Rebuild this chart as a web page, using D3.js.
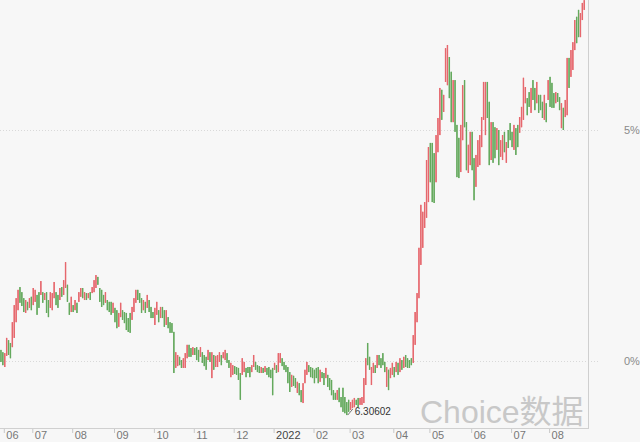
<!DOCTYPE html>
<html><head><meta charset="utf-8">
<script src="https://cdn.jsdelivr.net/npm/d3@7"></script>
<style>html,body{margin:0;padding:0;background:#f7f7f7;}svg{display:block;}</style>
</head><body>
<script>
// percent change values (0% = base), one candle per trading day, Jun 2021 - Aug 2022
const high = [0.24,0.19,0.17,0.50,0.45,0.39,0.84,1.21,1.36,1.54,1.60,1.49,1.36,1.32,1.28,1.36,1.39,1.58,1.54,1.43,1.49,1.73,1.49,1.47,1.49,1.32,1.49,1.47,1.71,1.49,1.43,1.58,1.60,1.75,2.14,1.65,1.26,1.39,1.21,1.32,1.26,1.49,1.58,1.58,1.49,1.47,1.47,1.49,1.60,1.75,1.86,1.82,1.58,1.54,1.43,1.49,1.32,1.28,
1.28,1.26,1.15,1.10,1.04,1.26,1.10,1.06,1.04,0.93,1.04,1.17,1.36,1.54,1.54,1.47,1.36,1.32,1.28,1.43,1.32,1.17,1.06,1.15,1.28,1.10,1.17,1.17,1.10,1.10,0.95,0.84,0.82,0.63,0.19,0.13,0.09,0.02,0.06,0.17,0.35,0.35,0.28,0.30,0.28,0.30,0.24,0.30,0.19,0.13,0.09,0.24,0.19,0.19,0.13,0.11,
0.13,0.19,0.13,0.19,0.24,0.17,0.02,-0.04,-0.09,-0.11,-0.13,-0.15,-0.26,0.06,-0.02,-0.15,-0.13,-0.13,-0.09,0.13,-0.02,-0.09,-0.11,-0.13,-0.15,-0.11,-0.15,-0.13,-0.19,-0.15,-0.04,-0.09,0.17,0.17,0.06,-0.02,-0.09,-0.13,-0.24,-0.30,-0.32,-0.37,-0.45,-0.48,-0.63,-0.48,-0.19,-0.02,-0.09,-0.13,-0.15,-0.19,
-0.15,-0.13,-0.19,-0.24,-0.26,-0.15,-0.30,-0.37,-0.41,-0.63,-0.69,-0.63,-0.58,-0.78,-0.58,-0.78,-0.89,-0.84,-0.89,-0.84,-0.80,-0.84,-0.80,-0.80,-0.78,-0.37,0.06,0.39,0.09,-0.13,-0.04,-0.09,0.13,0.13,0.06,0.17,-0.02,-0.13,-0.19,-0.15,-0.04,-0.13,-0.02,-0.04,0.06,0.02,0.09,0.13,0.06,0.02,0.06,0.56,
1.06,1.47,2.45,3.38,3.23,3.44,4.35,4.63,4.72,4.72,4.50,4.89,5.26,5.91,5.87,5.76,6.77,6.84,6.58,6.26,6.08,6.08,5.11,4.83,5.11,5.97,6.08,5.17,4.68,4.96,4.96,4.39,4.46,4.78,4.89,5.28,6.04,6.04,6.04,5.61,5.17,5.17,5.06,5.04,5.00,
4.78,4.89,4.96,4.74,5.00,5.15,4.96,5.11,5.04,5.11,5.28,5.50,6.13,5.93,5.69,5.82,5.91,6.08,5.91,6.04,5.76,5.76,5.61,5.76,5.58,6.08,6.15,6.02,5.80,5.82,5.80,5.71,5.58,5.48,5.65,6.56,6.56,6.73,6.90,7.38,7.45,7.60,7.53,7.75,7.81];
const low = [-0.02,-0.09,-0.13,0.11,0.13,0.06,0.30,0.50,0.84,1.10,1.26,1.19,1.06,1.04,1.10,1.15,1.10,1.21,1.28,1.00,1.15,1.43,1.26,1.32,1.04,0.95,1.15,1.10,1.36,1.21,1.15,1.32,1.39,1.43,1.58,1.28,1.00,1.06,1.06,1.10,1.04,1.28,1.39,1.36,1.32,1.32,1.36,1.32,1.47,1.49,1.58,1.65,1.28,1.17,1.21,1.26,1.10,1.06,
1.00,1.04,0.84,0.71,0.74,0.95,0.89,0.82,0.67,0.63,0.61,0.89,1.06,1.26,1.32,1.26,1.04,1.10,1.04,1.15,1.06,0.93,0.93,0.78,1.00,0.84,0.93,0.93,0.74,0.78,0.71,0.61,0.61,-0.26,-0.15,-0.11,-0.09,-0.15,-0.15,-0.15,0.06,0.09,0.09,0.13,0.13,0.02,-0.02,0.09,-0.04,-0.11,-0.19,0.02,-0.02,-0.37,-0.19,-0.13,
-0.13,-0.02,-0.09,0.06,0.02,-0.04,-0.15,-0.35,-0.30,-0.28,-0.30,-0.41,-0.84,-0.30,-0.24,-0.35,-0.26,-0.35,-0.24,-0.13,-0.19,-0.24,-0.26,-0.26,-0.26,-0.24,-0.30,-0.35,-0.37,-0.74,-0.19,-0.26,-0.24,-0.04,-0.11,-0.19,-0.24,-0.48,-0.67,-0.56,-0.54,-0.58,-0.69,-0.74,-0.89,-0.91,-0.48,-0.30,-0.24,-0.35,-0.37,-0.48,
-0.37,-0.48,-0.45,-0.37,-0.52,-0.37,-0.56,-0.63,-0.74,-0.84,-0.84,-0.84,-0.89,-1.00,-1.10,-1.13,-1.17,-1.10,-1.06,-1.02,-1.00,-0.95,-1.00,-0.95,-0.95,-0.91,-0.52,-0.09,-0.19,-0.52,-0.26,-0.26,-0.15,-0.09,-0.15,-0.09,-0.24,-0.56,-0.63,-0.37,-0.30,-0.35,-0.24,-0.30,-0.24,-0.19,-0.15,-0.13,-0.15,-0.15,-0.09,-0.04,
0.35,0.84,1.36,2.08,2.45,2.88,3.10,3.44,3.87,3.44,3.42,3.87,4.52,4.89,5.22,5.39,6.04,5.97,5.69,5.17,5.17,4.96,3.98,3.96,4.09,4.78,5.06,4.13,4.07,4.24,4.13,3.48,3.77,4.20,4.24,4.63,5.22,4.89,5.26,4.24,4.35,4.29,4.39,4.57,4.24,
4.42,4.35,4.52,4.29,4.61,4.78,4.63,4.57,4.46,4.63,4.94,5.06,5.22,5.58,5.32,5.50,5.37,5.65,5.43,5.58,5.37,5.43,5.26,5.22,5.17,5.65,5.50,5.48,5.48,5.58,5.61,5.43,5.04,5.00,5.28,5.32,5.91,6.15,6.30,6.73,6.88,7.01,7.01,7.38,7.60];
const open = [0.24,0.19,-0.13,0.11,0.45,0.39,0.30,0.50,0.84,1.10,1.60,1.49,1.36,1.04,1.28,1.15,1.39,1.21,1.28,1.43,1.49,1.43,1.49,1.32,1.49,1.32,1.15,1.10,1.36,1.49,1.43,1.32,1.60,1.43,1.58,1.65,1.26,1.06,1.21,1.10,1.26,1.28,1.39,1.58,1.32,1.47,1.36,1.49,1.47,1.49,1.58,1.82,1.58,1.54,1.43,1.26,1.32,1.28,
1.28,1.04,1.15,1.10,0.74,0.95,1.10,1.06,1.04,0.93,1.04,0.89,1.06,1.26,1.54,1.47,1.36,1.10,1.28,1.15,1.32,1.17,1.06,0.78,1.00,1.10,0.93,1.17,1.10,0.78,0.95,0.84,0.82,0.63,-0.15,-0.11,0.09,0.02,-0.15,-0.15,0.06,0.35,0.28,0.13,0.28,0.30,0.24,0.09,0.19,0.13,0.09,0.02,0.19,-0.37,0.13,-0.13,
-0.13,-0.02,0.13,0.06,0.02,0.17,0.02,-0.35,-0.30,-0.11,-0.13,-0.15,-0.26,-0.30,-0.24,-0.15,-0.13,-0.13,-0.24,-0.13,-0.02,-0.09,-0.11,-0.26,-0.15,-0.24,-0.15,-0.13,-0.19,-0.15,-0.19,-0.09,-0.24,-0.04,0.06,-0.02,-0.09,-0.13,-0.24,-0.56,-0.32,-0.37,-0.69,-0.48,-0.63,-0.91,-0.48,-0.30,-0.09,-0.13,-0.15,-0.19,
-0.15,-0.13,-0.45,-0.24,-0.26,-0.37,-0.30,-0.37,-0.41,-0.63,-0.69,-0.84,-0.58,-0.78,-0.58,-0.78,-0.89,-0.84,-1.06,-1.02,-1.00,-0.84,-0.80,-0.95,-0.95,-0.91,-0.52,0.39,0.09,-0.52,-0.26,-0.09,-0.15,0.13,0.06,0.17,-0.02,-0.56,-0.19,-0.37,-0.30,-0.13,-0.24,-0.04,-0.24,0.02,-0.15,0.13,0.06,0.02,0.06,-0.04,
0.35,0.84,1.36,2.08,2.45,2.88,3.10,3.44,4.72,4.72,4.50,3.87,4.52,4.89,5.87,5.39,6.04,5.97,6.58,6.26,5.17,6.08,5.11,4.83,4.09,4.78,6.08,5.17,4.07,4.24,4.96,4.39,3.77,4.20,4.24,4.63,5.22,4.89,6.04,5.61,4.35,5.17,5.06,4.57,5.00,
4.42,4.35,4.96,4.29,5.00,5.15,4.96,4.57,5.04,5.11,4.94,5.06,5.22,5.58,5.69,5.82,5.37,6.08,5.91,5.58,5.76,5.76,5.61,5.22,5.58,5.65,6.15,6.02,5.80,5.58,5.80,5.71,5.04,5.48,5.28,5.32,6.56,6.15,6.30,6.73,7.45,7.60,7.01,7.38,7.60];
const close = [-0.02,-0.09,0.17,0.50,0.13,0.06,0.84,1.21,1.36,1.54,1.26,1.19,1.06,1.32,1.10,1.36,1.10,1.58,1.54,1.00,1.15,1.73,1.26,1.47,1.04,0.95,1.49,1.47,1.71,1.21,1.15,1.58,1.39,1.75,2.14,1.28,1.00,1.39,1.06,1.32,1.04,1.49,1.58,1.36,1.49,1.32,1.47,1.32,1.60,1.75,1.86,1.65,1.28,1.17,1.21,1.49,1.10,1.06,
1.00,1.26,0.84,0.71,1.04,1.26,0.89,0.82,0.67,0.63,0.61,1.17,1.36,1.54,1.32,1.26,1.04,1.32,1.04,1.43,1.06,0.93,0.93,1.15,1.28,0.84,1.17,0.93,0.74,1.10,0.71,0.61,0.61,-0.26,0.19,0.13,-0.09,-0.15,0.06,0.17,0.35,0.09,0.09,0.30,0.13,0.02,-0.02,0.30,-0.04,-0.11,-0.19,0.24,-0.02,0.19,-0.19,0.11,
0.13,0.19,-0.09,0.19,0.24,-0.04,-0.15,-0.04,-0.09,-0.28,-0.30,-0.41,-0.84,0.06,-0.02,-0.35,-0.26,-0.35,-0.09,0.13,-0.19,-0.24,-0.26,-0.13,-0.26,-0.11,-0.30,-0.35,-0.37,-0.74,-0.04,-0.26,0.17,0.17,-0.11,-0.19,-0.24,-0.48,-0.67,-0.30,-0.54,-0.58,-0.45,-0.74,-0.89,-0.48,-0.19,-0.02,-0.24,-0.35,-0.37,-0.48,
-0.37,-0.48,-0.19,-0.37,-0.52,-0.15,-0.56,-0.63,-0.74,-0.84,-0.84,-0.63,-0.89,-1.00,-1.10,-1.13,-1.17,-1.10,-0.89,-0.84,-0.80,-0.95,-1.00,-0.80,-0.78,-0.37,0.06,-0.09,-0.19,-0.13,-0.04,-0.26,0.13,-0.09,-0.15,-0.09,-0.24,-0.13,-0.63,-0.15,-0.04,-0.35,-0.02,-0.30,0.06,-0.19,0.09,-0.13,-0.15,-0.15,-0.09,0.56,
1.06,1.47,2.45,3.38,3.23,3.44,4.35,4.63,3.87,3.44,3.42,4.89,5.26,5.91,5.22,5.76,6.77,6.84,5.69,5.17,6.08,4.96,3.98,3.96,5.11,5.97,5.06,4.13,4.68,4.96,4.13,3.48,4.46,4.78,4.89,5.28,6.04,6.04,5.26,4.24,5.17,4.29,4.39,5.04,4.24,
4.78,4.89,4.52,4.74,4.61,4.78,4.63,5.11,4.46,4.63,5.28,5.50,6.13,5.93,5.32,5.50,5.91,5.65,5.43,6.04,5.37,5.43,5.26,5.76,5.17,6.08,5.50,5.48,5.48,5.82,5.61,5.43,5.58,5.00,5.65,6.56,5.91,6.73,6.90,7.38,6.88,7.01,7.53,7.75,7.81];
const dayIndex = d3.range(high.length);
const monthTickIndex = [2,17,38,60,81,102,123,144,165,184,207,226,248,269,289];
const monthTickLabels = ['06','07','08','09','10','11','12','2022','02','03','04','05','06','07','08'];
const yTickValues = [0,5];
const yTickLabels = ['0%','5%'];
const minLabel = '6.30602';
const watermark = 'Choice数据';

const W = 640, H = 442;
const plotRight = 588, axisY = 428;
const svg = d3.select('body').append('svg').attr('width',W).attr('height',H);
svg.append('rect').attr('width',W).attr('height',H).attr('fill','#f7f7f7');

const x = d3.scaleLinear().domain([0, dayIndex.length]).range([0, 585.2]);
const y = d3.scaleLinear().domain([0,5]).range([361,130]);

// watermark
svg.append('text').attr('x',420).attr('y',423)
  .attr('font-family','"Liberation Sans","Noto Sans CJK SC",sans-serif')
  .attr('font-size',32).attr('fill','#c8c8c8').text(watermark);

// grid lines
svg.append('g').selectAll('line').data(yTickValues).join('line')
  .attr('x1',0).attr('x2',598).attr('y1',d=>Math.round(y(d))+0.5).attr('y2',d=>Math.round(y(d))+0.5)
  .attr('stroke','#d9d9d9').attr('stroke-dasharray','1,2');
svg.append('g').selectAll('text').data(yTickValues).join('text')
  .attr('x',624).attr('y',d=>y(d)).attr('dy','0.35em')
  .attr('font-family','"Liberation Sans",Arial,sans-serif').attr('font-size',11).attr('fill','#8a8a8a')
  .text((d,i)=>yTickLabels[i]);

// right border & bottom axis
svg.append('line').attr('x1',plotRight+0.5).attr('x2',plotRight+0.5).attr('y1',0).attr('y2',axisY)
  .attr('stroke','#cfcfcf');
const xAxis = d3.axisBottom(x).tickValues(monthTickIndex).tickSize(5)
  .tickFormat((d,i)=>monthTickLabels[i]);
const gx = svg.append('g').attr('transform',`translate(0,${axisY})`).call(xAxis);
gx.select('.domain').remove();
gx.selectAll('.tick line').attr('stroke','#c8c8c8');
gx.selectAll('.tick text').attr('text-anchor','start').attr('dx',2).attr('y',3)
  .attr('font-family','"Liberation Sans",Arial,sans-serif').attr('font-size',11)
  .attr('fill',(d,i)=>monthTickLabels[i]==='2022'?'#444':'#777');
svg.append('line').attr('x1',0).attr('x2',plotRight+1).attr('y1',axisY+0.5).attr('y2',axisY+0.5)
  .attr('stroke','#d0d0d0');

// candles
const up = '#e6676d', down = '#64a95d';
const g = svg.append('g');
g.selectAll('line').data(dayIndex).join('line')
  .attr('x1',i=>x(i+0.5)).attr('x2',i=>x(i+0.5))
  .attr('y1',i=>y(high[i])).attr('y2',i=>y(low[i]))
  .attr('stroke',i=>close[i]>=open[i]?up:down).attr('stroke-width',1);
g.selectAll('rect').data(dayIndex).join('rect')
  .attr('x',i=>x(i+0.5)-0.7).attr('width',1.4)
  .attr('y',i=>y(Math.max(open[i],close[i])))
  .attr('height',i=>Math.max(0.8, Math.abs(y(open[i])-y(close[i]))))
  .attr('fill',i=>close[i]>=open[i]?up:down);

// min annotation
const iMin = d3.minIndex(low);
const mx = x(iMin+0.5), my = y(low[iMin]);
svg.append('line').attr('x1',mx+1).attr('y1',my).attr('x2',mx+6).attr('y2',my-6)
  .attr('stroke','#555').attr('stroke-width',0.8);
svg.append('text').attr('x',mx+8).attr('y',my-0.5)
  .attr('font-family','"Liberation Sans",Arial,sans-serif').attr('font-size',10).attr('fill','#333')
  .text(minLabel);
</script>
</body></html>
